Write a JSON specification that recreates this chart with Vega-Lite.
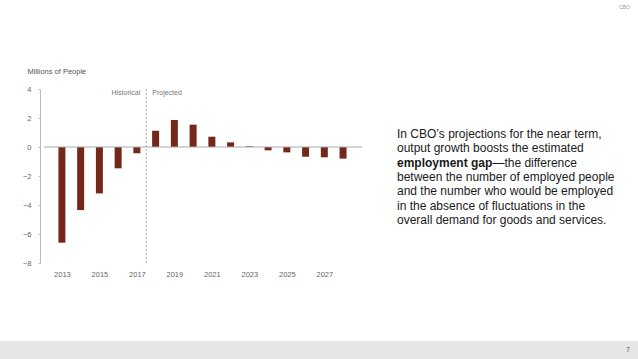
{
  "$schema": "https://vega.github.io/schema/vega-lite/v6.json",
  "padding": 0,
  "background": "white",
  "spacing": 53,
  "config": {
    "view": {"stroke": null},
    "font": "Liberation Sans",
    "axisX": {"domain": false, "ticks": false, "grid": false, "labelPadding": 7, "labelFontSize": 7.5, "labelColor": "#666666"},
    "axisY": {"grid": false, "tickSize": 2, "labelPadding": 7, "labelOverlap": false, "labelFontSize": 7.5, "labelColor": "#666666", "domainColor": "#bbbbbb", "tickColor": "#bbbbbb", "titleAngle": 0, "titleAlign": "left", "titleBaseline": "middle", "titleFontSize": 7.5, "titleFontWeight": "normal", "titleColor": "#555555"}
  },
  "datasets": {
    "bars": [
      {"year": 2013, "value": -6.6},
      {"year": 2014, "value": -4.35},
      {"year": 2015, "value": -3.2},
      {"year": 2016, "value": -1.47},
      {"year": 2017, "value": -0.43},
      {"year": 2018, "value": 1.12},
      {"year": 2019, "value": 1.86},
      {"year": 2020, "value": 1.54},
      {"year": 2021, "value": 0.71},
      {"year": 2022, "value": 0.32},
      {"year": 2023, "value": 0.05},
      {"year": 2024, "value": -0.23},
      {"year": 2025, "value": -0.37},
      {"year": 2026, "value": -0.67},
      {"year": 2027, "value": -0.71},
      {"year": 2028, "value": -0.8}
    ],
    "notes": [
      {"line": 1, "col": 0, "part": "plain", "t": "In CBO’s projections for the near term,"},
      {"line": 2, "col": 0, "part": "plain", "t": "output growth boosts the estimated"},
      {"line": 3, "col": 0, "part": "bold", "t": "employment gap"},
      {"line": 3, "col": 0, "part": "tail", "t": "—the difference"},
      {"line": 4, "col": 0, "part": "plain", "t": "between the number of employed people"},
      {"line": 5, "col": 0, "part": "plain", "t": "and the number who would be employed"},
      {"line": 6, "col": 0, "part": "plain", "t": "in the absence of fluctuations in the"},
      {"line": 7, "col": 0, "part": "plain", "t": "overall demand for goods and services."}
    ]
  },
  "vconcat": [
    {
      "width": 638,
      "height": 14,
      "data": {"values": [{"t": "CBO", "col": 1, "v": 0.5}]},
      "mark": {"type": "text", "align": "right", "baseline": "middle", "dx": -8, "fontSize": 5, "color": "#999999"},
      "encoding": {
        "x": {"field": "col", "type": "quantitative", "scale": {"domain": [0, 1]}, "axis": null},
        "y": {"field": "v", "type": "quantitative", "scale": {"domain": [0, 1]}, "axis": null},
        "text": {"field": "t"}
      }
    },
    {
      "spacing": 30,
      "hconcat": [
        {
          "width": 367,
          "height": 174,
          "layer": [
            {
              "data": {"name": "bars"},
              "mark": {"type": "bar", "size": 7, "color": "#732819"},
              "encoding": {
                "x": {
                  "field": "year", "type": "quantitative",
                  "scale": {"domain": [2009.964, 2029.01], "nice": false, "zero": false},
                  "axis": {"values": [2013, 2015, 2017, 2019, 2021, 2023, 2025, 2027], "format": "d", "title": null}
                },
                "y": {
                  "field": "value", "type": "quantitative",
                  "scale": {"domain": [-8, 4], "nice": false},
                  "axis": {"values": [-8, -6, -4, -2, 0, 2, 4], "offset": -40, "title": "Millions of People", "titleX": -13, "titleY": -18}
                }
              }
            },
            {
              "data": {"values": [{}]},
              "mark": {"type": "rule", "color": "#aaaaaa", "strokeWidth": 1},
              "encoding": {
                "x": {"datum": 2012.04, "axis": {"values": [2013, 2015, 2017, 2019, 2021, 2023, 2025, 2027], "format": "d", "title": null}},
                "x2": {"datum": 2029.01},
                "y": {"datum": 0, "axis": {"values": [-8, -6, -4, -2, 0, 2, 4], "offset": -40, "title": "Millions of People", "titleX": -13, "titleY": -18}}
              }
            },
            {
              "data": {"values": [{}]},
              "mark": {"type": "rule", "color": "#999999", "strokeWidth": 0.8, "strokeDash": [2, 2]},
              "encoding": {"x": {"datum": 2017.5, "axis": {"values": [2013, 2015, 2017, 2019, 2021, 2023, 2025, 2027], "format": "d", "title": null}}}
            },
            {
              "data": {"values": [{}]},
              "mark": {"type": "text", "align": "right", "baseline": "middle", "dx": -6, "fontSize": 7, "color": "#777777", "text": "Historical"},
              "encoding": {
                "x": {"datum": 2017.5, "axis": {"values": [2013, 2015, 2017, 2019, 2021, 2023, 2025, 2027], "format": "d", "title": null}},
                "y": {"datum": 3.7, "axis": {"values": [-8, -6, -4, -2, 0, 2, 4], "offset": -40, "title": "Millions of People", "titleX": -13, "titleY": -18}}
              }
            },
            {
              "data": {"values": [{}]},
              "mark": {"type": "text", "align": "left", "baseline": "middle", "dx": 6, "fontSize": 7, "color": "#777777", "text": "Projected"},
              "encoding": {
                "x": {"datum": 2017.5, "axis": {"values": [2013, 2015, 2017, 2019, 2021, 2023, 2025, 2027], "format": "d", "title": null}},
                "y": {"datum": 3.7, "axis": {"values": [-8, -6, -4, -2, 0, 2, 4], "offset": -40, "title": "Millions of People", "titleX": -13, "titleY": -18}}
              }
            }
          ]
        },
        {
          "width": 241,
          "height": 199,
          "data": {"name": "notes"},
          "encoding": {
            "x": {"field": "col", "type": "quantitative", "scale": {"domain": [0, 1]}, "axis": null},
            "y": {"field": "line", "type": "quantitative", "scale": {"domain": [-2.147, 11.769], "reverse": true, "nice": false, "zero": false}, "axis": null},
            "text": {"field": "t"}
          },
          "layer": [
            {
              "transform": [{"filter": "datum.part == 'plain'"}],
              "mark": {"type": "text", "align": "left", "baseline": "middle", "fontSize": 12, "color": "#1a1a1a"}
            },
            {
              "transform": [{"filter": "datum.part == 'bold'"}],
              "mark": {"type": "text", "align": "left", "baseline": "middle", "fontSize": 12, "fontWeight": "bold", "color": "#1a1a1a"}
            },
            {
              "transform": [{"filter": "datum.part == 'tail'"}],
              "mark": {"type": "text", "align": "left", "baseline": "middle", "dx": 95.4, "fontSize": 12, "color": "#1a1a1a"}
            }
          ]
        }
      ]
    },
    {
      "width": 638,
      "height": 18,
      "view": {"fill": "#e6e6e6", "stroke": null},
      "data": {"values": [{"t": "7", "col": 1, "v": 0.5}]},
      "mark": {"type": "text", "align": "right", "baseline": "middle", "dx": -8, "fontSize": 7, "color": "#555555"},
      "encoding": {
        "x": {"field": "col", "type": "quantitative", "scale": {"domain": [0, 1]}, "axis": null},
        "y": {"field": "v", "type": "quantitative", "scale": {"domain": [0, 1]}, "axis": null},
        "text": {"field": "t"}
      }
    }
  ]
}
